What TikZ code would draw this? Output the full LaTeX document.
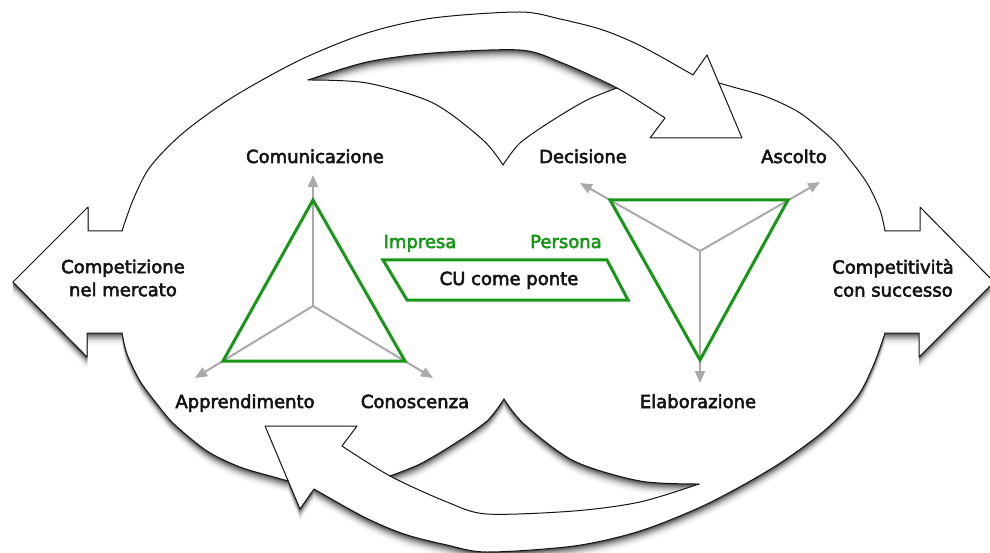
\documentclass[tikz,border=0pt]{standalone}
\usepackage{fontspec}
\newfontfamily\lblfont{DejaVu Sans}[FakeBold=3]
\usetikzlibrary{arrows.meta}
\definecolor{grn}{RGB}{24,150,24}
\definecolor{spk}{RGB}{170,170,170}
\definecolor{ink}{RGB}{20,20,20}
\newcommand\halfregion{(13,282) -- (88,207) -- (88,231) -- (122,231)
  -- plot[smooth] coordinates {(122,231) (133,200) (150,167) (183,133) (233,97) (300,60) (367,33) (433,18) (520,12) (560,19) (603,30) (643,47) (693,75)}
  -- (707,55) -- (718.8,83)
  -- plot[smooth] coordinates {(718.8,83) (733,87) (767,97) (800,113) (833,140) (850,160) (867,183) (880,210) (885,231)}
  -- (920,231) -- (920,207) -- (994,282) -- (991,285) -- (16,285) -- cycle
  (308,80) -- plot[smooth] coordinates {(308,80) (367,62) (433,53) (520,50) (560,62) (617,88)}
  -- plot[smooth] coordinates {(617,88) (587,100) (553,120) (520,143) (503,165)}
  -- plot[smooth] coordinates {(503,165) (483,140) (433,103) (367,83) (308,80)} -- cycle}
\newcommand\halfstrokes{%
  \draw[outline] (122,231) -- (88,231) -- (88,207) -- (13,282);
  \draw[outline] (885,231) -- (920,231) -- (920,207) -- (994,282);
  \draw[outline] (122,231)
    -- plot[smooth] coordinates {(122,231) (133,200) (150,167) (183,133) (233,97) (300,60) (367,33) (433,18) (520,12) (560,19) (603,30) (643,47) (693,75)}
    -- (707,55) -- (742,138) -- (650,138) -- (665,118)
    -- plot[smooth] coordinates {(665,118) (617,88) (560,62) (520,50) (433,53) (367,62) (308,80)};
  \draw[outline] plot[smooth] coordinates {(308,80) (367,83) (433,103) (483,140) (503,165)};
  \draw[outline] plot[smooth] coordinates {(503,165) (520,143) (553,120) (587,100) (617,88)};
  \draw[outline] plot[smooth] coordinates {(718.8,83) (733,87) (767,97) (800,113) (833,140) (850,160) (867,183) (880,210) (885,231)};
}
\begin{document}
\begin{tikzpicture}[x=1pt,y=-1pt,
  outline/.style={draw=ink, line width=1pt, line join=round, line cap=round},
  spoke/.style={draw=spk, line width=2pt, -{Triangle[length=12pt,width=10pt]}},
  tri/.style={draw=grn, line width=3pt, line join=miter},
  lbl/.style={font=\lblfont\fontsize{18}{23}\selectfont, text=ink, inner sep=0pt, align=center},
  glbl/.style={font=\lblfont\fontsize{18}{23}\selectfont, text=grn, inner sep=0pt},
]
\useasboundingbox (0,0) rectangle (990,553);
% soft shadow
\foreach \k/\c in {14/1,13/2,12/4,11/6,10/9,9/13,8/18,7/23,6/29,5/36,4/43,3/51,2/60,1/70}{
  \pgfmathsetmacro\dy{-0.9*\k}
  \begin{scope}[yshift=\dy pt]
    \fill[black!\c, even odd rule] \halfregion;
    \begin{scope}[rotate around={180:(503.5,282)}]
      \fill[black!\c, even odd rule] \halfregion;
    \end{scope}
  \end{scope}
}
% white body
\fill[white, even odd rule] \halfregion;
\begin{scope}[rotate around={180:(503.5,282)}]
  \fill[white, even odd rule] \halfregion;
\end{scope}
% outlines
\halfstrokes
\begin{scope}[rotate around={180:(503.5,282)}]
  \halfstrokes
\end{scope}

% left triad
\coordinate (lc) at (313,306);
\coordinate (la) at (313,200);
\coordinate (lb) at (223,361);
\coordinate (lr) at (405,361);
\coordinate (lat) at (313,175);
\coordinate (lbt) at (195,378);
\coordinate (lrt) at (433,378);
\draw[spoke] (lc) -- (lat);
\draw[spoke] (lc) -- (lbt);
\draw[spoke] (lc) -- (lrt);
\draw[tri] (la) -- (lb) -- (lr) -- cycle;

% right triad
\coordinate (rc) at (700,251);
\coordinate (ra) at (610,200);
\coordinate (rb) at (788,200);
\coordinate (rd) at (700,360);
\coordinate (rat) at (580,183);
\coordinate (rbt) at (820,182);
\coordinate (rdt) at (700,383);
\draw[spoke] (rc) -- (rat);
\draw[spoke] (rc) -- (rbt);
\draw[spoke] (rc) -- (rdt);
\draw[tri] (ra) -- (rb) -- (rd) -- cycle;

% bridge
\coordinate (p1) at (383,260);
\coordinate (p2) at (607,260);
\coordinate (p3) at (628,300);
\coordinate (p4) at (407,300);
\draw[tri] (p1) -- (p2) -- (p3) -- (p4) -- cycle;

% labels
\node[lbl, anchor=base] (com) at (315,163) {Comunicazione};
\node[lbl, anchor=base] (dec) at (583,163) {Decisione};
\node[lbl, anchor=base] (asc) at (794,163) {Ascolto};
\node[glbl, anchor=base] (imp) at (420,248) {Impresa};
\node[glbl, anchor=base] (per) at (566,248) {Persona};
\node[lbl, anchor=base] (cu) at (509,285) {CU come ponte};
\node[lbl] (cmp) at (123,278) {Competizione\\nel mercato};
\node[lbl] (suc) at (893,278) {Competitività\\con successo};
\node[lbl, anchor=base] (app) at (245,408) {Apprendimento};
\node[lbl, anchor=base] (con) at (415,408) {Conoscenza};
\node[lbl, anchor=base] (ela) at (698,408) {Elaborazione};
\end{tikzpicture}
\end{document}
